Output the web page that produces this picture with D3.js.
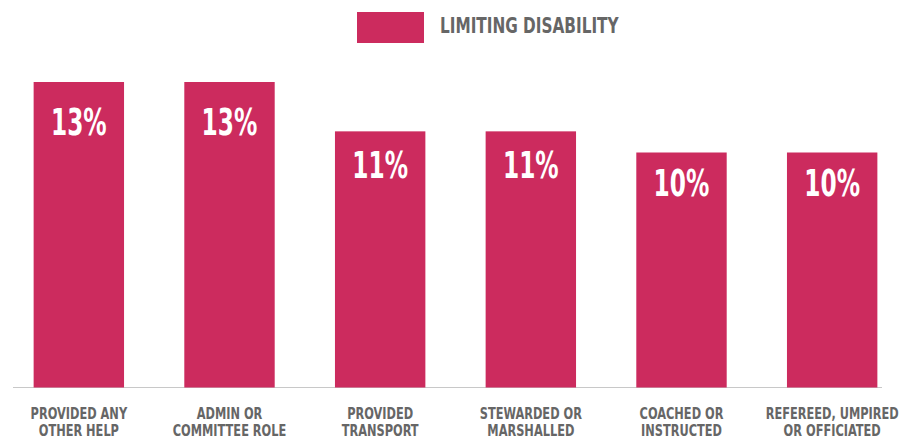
<!DOCTYPE html>
<html>
<head>
<meta charset="utf-8">
<script src="https://cdn.jsdelivr.net/npm/d3@7"></script>
<style>
  body { margin: 0; background: #fff; }
  text { font-family: "DejaVu Sans Condensed", "DejaVu Sans", sans-serif; font-weight: bold; }
</style>
</head>
<body>
<svg width="899" height="438"></svg>
<script>
var categories = [
    ["PROVIDED ANY", "OTHER HELP"],
    ["ADMIN OR", "COMMITTEE ROLE"],
    ["PROVIDED", "TRANSPORT"],
    ["STEWARDED OR", "MARSHALLED"],
    ["COACHED OR", "INSTRUCTED"],
    ["REFEREED, UMPIRED", "OR OFFICIATED"]
];
var values = [13, 13, 10.9, 10.9, 10, 10];
var seriesName = "LIMITING DISABILITY";

var barColor = "#cc2b5e", textGray = "#666666";
var svg = d3.select("svg");

var baseY = 387.5;
var scX = d3.scaleBand()
    .domain(d3.range(values.length))
    .range([3.5, 907.5])
    .paddingInner(0.4)
    .paddingOuter(0.2);
var scY = d3.scaleLinear()
    .domain([0, 13])
    .range([baseY, 82]);

var mid = i => scX(i) + scX.bandwidth() / 2;

// axis line
svg.append("line")
    .attr("x1", 13).attr("x2", 882)
    .attr("y1", baseY).attr("y2", baseY)
    .attr("stroke", "#c8c8c8").attr("stroke-width", 1.2);

svg.selectAll("rect.bar")
    .data(values)
    .enter()
    .append("rect")
    .attr("class", "bar")
    .attr("fill", barColor)
    .attr("x", (d, i) => scX(i))
    .attr("width", scX.bandwidth())
    .attr("y", d => scY(d))
    .attr("height", d => baseY - scY(d));

// value labels sit at ~87% of the bar height, font squeezed to look condensed
svg.selectAll("text.val")
    .data(values)
    .enter()
    .append("text")
    .attr("class", "val")
    .attr("fill", "#fff")
    .attr("font-size", 37)
    .attr("text-anchor", "middle")
    .attr("dominant-baseline", "central")
    .attr("transform", (d, i) => "translate(" + mid(i) + "," + scY(d * 0.868) + ") scale(0.7,1)")
    .text(d => Math.round(d) + "%");

// category labels
var lab = svg.selectAll("text.cat")
    .data(categories)
    .enter()
    .append("text")
    .attr("class", "cat")
    .attr("fill", textGray)
    .attr("font-size", 16)
    .attr("text-anchor", "middle")
    .attr("transform", (d, i) => "translate(" + mid(i) + ",418.5) scale(0.79,1)");
lab.selectAll("tspan")
    .data(d => d)
    .enter()
    .append("tspan")
    .attr("x", 0)
    .attr("dy", (d, i) => i == 0 ? 0 : 17.5)
    .text(d => d);

// legend
svg.append("rect")
    .attr("x", 357).attr("y", 12)
    .attr("width", 67).attr("height", 31)
    .attr("fill", barColor);
svg.append("text")
    .attr("fill", textGray)
    .attr("font-size", 21)
    .attr("transform", "translate(440,33) scale(0.81,1)")
    .text(seriesName);
</script>
</body>
</html>
